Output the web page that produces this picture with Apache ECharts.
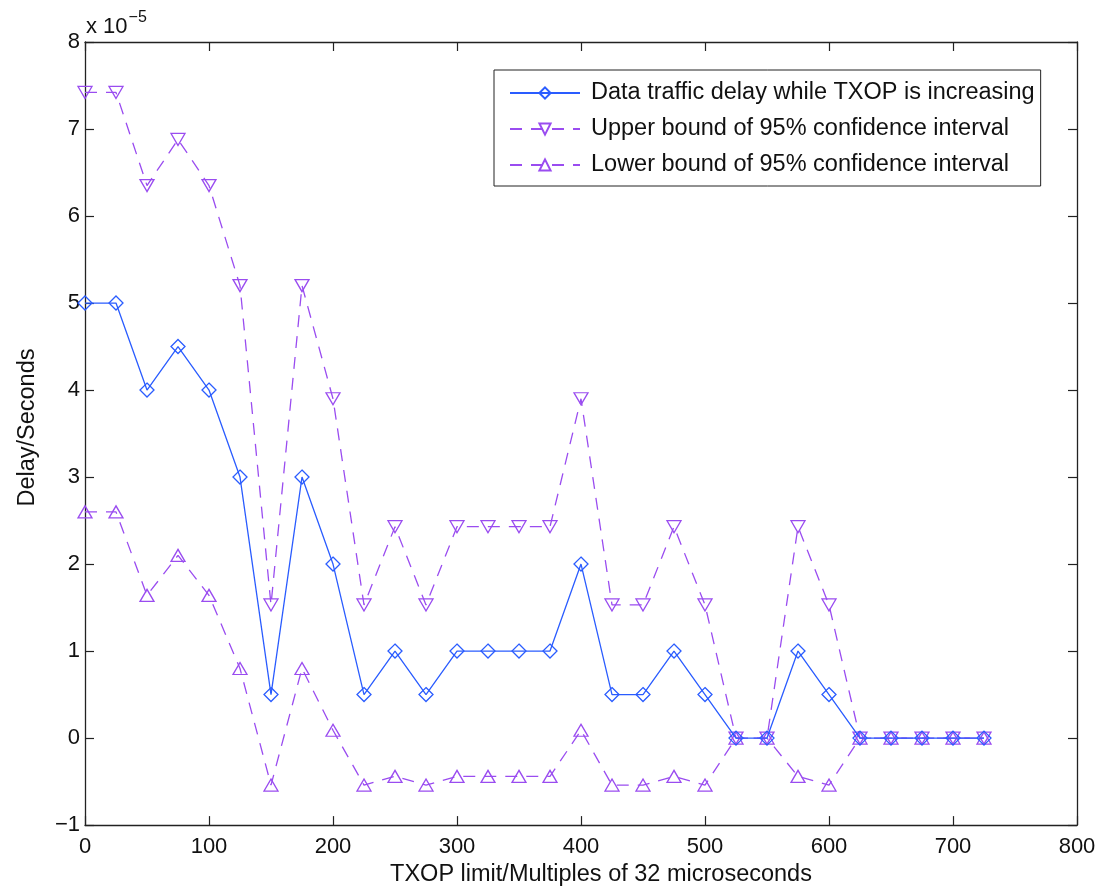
<!DOCTYPE html>
<html>
<head>
<meta charset="utf-8">
<script src="https://cdn.jsdelivr.net/npm/echarts@6/dist/echarts.min.js"></script>
<style>
html,body{margin:0;padding:0;background:#fff;}
#chart{width:1104px;height:892px;}
</style>
</head>
<body>
<div id="chart"></div>
<script>
// TXOP limit (multiples of 32 microseconds)
const txop = [0,25,50,75,100,125,150,175,200,225,250,275,300,325,350,375,400,425,450,475,500,525,550,575,600,625,650,675,700,725];
// Delay values in units of 1e-5 seconds
const delay = [5,5,4,4.5,4,3,0.5,3,2,0.5,1,0.5,1,1,1,1,2,0.5,0.5,1,0.5,0,0,1,0.5,0,0,0,0,0];
const upper = [7.42,7.42,6.35,6.88,6.35,5.2,1.53,5.2,3.9,1.53,2.43,1.53,2.43,2.43,2.43,2.43,3.9,1.53,1.53,2.43,1.53,0,0,2.43,1.53,0,0,0,0,0];
const lower = [2.6,2.6,1.64,2.1,1.64,0.8,-0.54,0.8,0.09,-0.54,-0.44,-0.54,-0.44,-0.44,-0.44,-0.44,0.09,-0.54,-0.54,-0.44,-0.54,0,0,-0.44,-0.54,0,0,0,0,0];
const names = ['Data traffic delay while TXOP is increasing','Upper bound of 95% confidence interval','Lower bound of 95% confidence interval'];

const blue = '#2a5cff';
const purple = '#9a4cf0';
const font = 'Liberation Sans, Arial, Helvetica, sans-serif';
const pair = (xs, ys) => xs.map((x, i) => [x, ys[i]]);

const chart = echarts.init(document.getElementById('chart'), null, {renderer: 'canvas'});
const axisCommon = () => ({
  axisLine: {show: true, onZero: false, lineStyle: {color: '#222', width: 1.3}},
  axisTick: {show: true, inside: true, length: 9, lineStyle: {color: '#222', width: 1.2}},
  splitLine: {show: false}
});
chart.setOption({
  animation: false,
  backgroundColor: '#fff',
  grid: {left: 85, right: 27, top: 42, bottom: 66, containLabel: false},
  xAxis: [
    Object.assign({type: 'value', min: 0, max: 800, interval: 100, position: 'bottom',
      name: 'TXOP limit/Multiples of 32 microseconds', nameLocation: 'middle', nameGap: 32,
      nameTextStyle: {fontFamily: font, fontSize: 23.5, color: '#111', padding: [0, 0, 0, 40]},
      axisLabel: {fontFamily: font, fontSize: 22, color: '#111', margin: 11}}, axisCommon()),
    Object.assign({type: 'value', min: 0, max: 800, interval: 100, position: 'top',
      axisLabel: {show: false}}, axisCommon())
  ],
  yAxis: [
    Object.assign({type: 'value', min: -1, max: 8, interval: 1, position: 'left',
      name: 'Delay/Seconds', nameLocation: 'middle', nameGap: 45,
      nameTextStyle: {fontFamily: font, fontSize: 23.5, color: '#111', padding: [0, 0, 0, 12]},
      axisLabel: {fontFamily: font, fontSize: 22, color: '#111', margin: 5,
        formatter: v => v < 0 ? '\u2212' + Math.abs(v) : String(v)}}, axisCommon()),
    Object.assign({type: 'value', min: -1, max: 8, interval: 1, position: 'right',
      axisLabel: {show: false}}, axisCommon())
  ],
  legend: {
    left: 494, top: 70, orient: 'vertical',
    padding: [11, 6, 9, 15],
    backgroundColor: '#fff',
    borderColor: '#222', borderWidth: 1,
    itemWidth: 70, itemHeight: 14, itemGap: 12,
    textStyle: {fontFamily: font, fontSize: 23.5, color: '#111', padding: [0, 0, 0, 6]},
    data: names
  },
  graphic: [{
    type: 'text', left: 86, top: 10,
    style: {
      text: '{a|x 10}{b|\u22125}',
      rich: {
        a: {fontFamily: font, fontSize: 22, fill: '#111', verticalAlign: 'bottom'},
        b: {fontFamily: font, fontSize: 16, fill: '#111', verticalAlign: 'top', padding: [0, 0, 12, 1]}
      }
    }
  }],
  series: [
    {
      name: names[0], type: 'line', data: pair(txop, delay),
      symbol: 'diamond', symbolSize: [14, 14],
      lineStyle: {color: blue, width: 1.3, type: 'solid'},
      itemStyle: {color: 'rgba(255,255,255,0)', borderColor: blue, borderWidth: 1.3},
      z: 3
    },
    {
      name: names[1], type: 'line', data: pair(txop, upper),
      symbol: 'triangle', symbolRotate: 180, symbolSize: [14, 12],
      lineStyle: {color: purple, width: 1.3, type: [12, 9]},
      itemStyle: {color: 'rgba(255,255,255,0)', borderColor: purple, borderWidth: 1.3},
      z: 2
    },
    {
      name: names[2], type: 'line', data: pair(txop, lower),
      symbol: 'triangle', symbolSize: [14, 12],
      lineStyle: {color: purple, width: 1.3, type: [12, 9]},
      itemStyle: {color: 'rgba(255,255,255,0)', borderColor: purple, borderWidth: 1.3},
      z: 2
    }
  ]
});
</script>
</body>
</html>
